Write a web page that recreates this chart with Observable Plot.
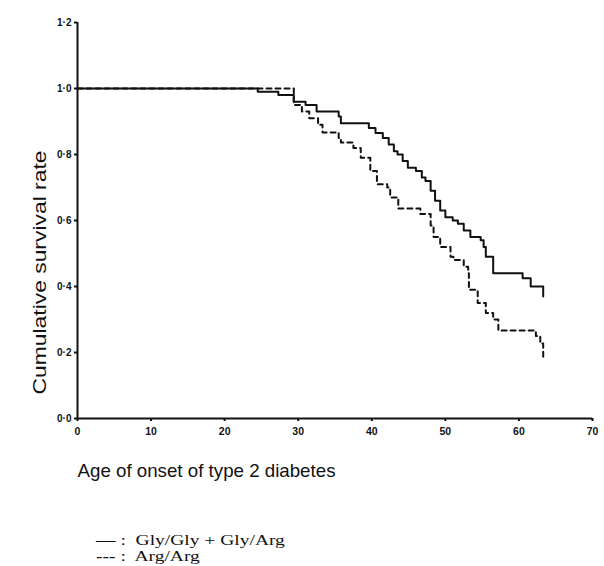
<!DOCTYPE html>
<html>
<head>
<meta charset="utf-8">
<script src="https://cdn.jsdelivr.net/npm/d3@7"></script>
<script src="https://cdn.jsdelivr.net/npm/@observablehq/plot@0.6"></script>
<style>
  body { margin: 0; background: #fff; overflow: hidden; }
  #legend { font-family: "Liberation Serif", "Times New Roman", serif; font-size: 15px; color: #111; padding-left: 96px; margin-top: 42px; line-height: 16px; }
  #legend div { display: block; transform: scaleX(1.3); transform-origin: left center; white-space: pre; }
</style>
</head>
<body>
<div id="chart"></div>
<div id="legend"></div>
<script>
// Series: Gly/Gly + Gly/Arg (solid)
const solidAges = [0, 24.5, 27.3, 29.4, 31.0, 32.5, 35.5, 35.8, 39.6, 40.5, 41.5, 42.3, 43.0, 43.5, 44.2, 44.9, 46.0, 46.8, 47.3, 48.0, 48.6, 49.3, 50.0, 51.0, 51.7, 52.5, 53.4, 54.8, 55.2, 55.5, 56.5, 60.5, 61.6, 63.3, 63.3];
const solidSurv = [1.0, 0.99, 0.98, 0.96, 0.95, 0.93, 0.915, 0.895, 0.88, 0.865, 0.85, 0.83, 0.81, 0.80, 0.78, 0.76, 0.75, 0.73, 0.72, 0.69, 0.66, 0.63, 0.61, 0.60, 0.59, 0.57, 0.55, 0.54, 0.52, 0.49, 0.44, 0.425, 0.40, 0.40, 0.37];
// Series: Arg/Arg (dashed)
const dashedAges = [0, 29.4, 30.5, 31.5, 32.7, 33.3, 35.5, 35.8, 37.5, 38.5, 39.8, 40.7, 42.1, 42.5, 43.6, 46.6, 48.0, 48.4, 49.3, 50.7, 51.1, 52.5, 53.1, 53.2, 54.4, 55.5, 56.5, 57.2, 62.3, 62.9, 63.3, 63.3];
const dashedSurv = [1.0, 0.95, 0.93, 0.91, 0.89, 0.867, 0.85, 0.836, 0.82, 0.79, 0.75, 0.71, 0.70, 0.67, 0.636, 0.62, 0.585, 0.55, 0.52, 0.49, 0.48, 0.46, 0.44, 0.39, 0.35, 0.32, 0.30, 0.267, 0.25, 0.227, 0.215, 0.18];

const xTicks = [0, 10, 20, 30, 40, 50, 60, 70];
const yTicks = [0, 0.2, 0.4, 0.6, 0.8, 1.0, 1.2];
const xLabel = "Age of onset of type 2 diabetes";
const yLabel = "Cumulative survival rate";
const legendSymbols = ["\u2014", "---"];
const legendNames = ["Gly/Gly + Gly/Arg", "Arg/Arg"];

const solid = solidAges.map((a, i) => ({age: a, surv: solidSurv[i]}));
const dashed = dashedAges.map((a, i) => ({age: a, surv: dashedSurv[i]}));

const fmt = d => d.toFixed(1).replace(".", "\u00B7");

const plot = Plot.plot({
  width: 604,
  height: 490,
  marginTop: 22,
  marginBottom: 72,
  marginLeft: 77,
  marginRight: 12,
  style: {fontFamily: "'Liberation Sans', Arial, sans-serif", fontSize: "10px", color: "#111", background: "#fff"},
  x: {domain: [0, 70]},
  y: {domain: [0, 1.2]},
  marks: [
    Plot.axisX({ticks: xTicks, tickSize: 3, tickPadding: 6, label: null, fontSize: 10.5, fontWeight: "bold", strokeWidth: 2}),
    Plot.axisY({ticks: yTicks, tickSize: 3, tickPadding: 3, label: null, tickFormat: fmt, fontSize: 10, fontWeight: "bold", strokeWidth: 2}),
    Plot.ruleX([0], {stroke: "#111", strokeWidth: 2}),
    Plot.ruleY([0], {stroke: "#111", strokeWidth: 2}),
    Plot.line(dashed, {x: "age", y: "surv", curve: "step-after", stroke: "#111", strokeWidth: 2, strokeDasharray: "5,4"}),
    Plot.line(solid, {x: "age", y: "surv", curve: "step-after", stroke: "#111", strokeWidth: 2}),
    Plot.text([xLabel], {frameAnchor: "bottom-left", text: d => d, dy: 58, textAnchor: "start", fontSize: 18.5, fill: "#111"}),
    Plot.text([yLabel], {frameAnchor: "left", text: d => d, dx: -38, dy: 52, rotate: -90, textAnchor: "middle", fontSize: 19, fill: "#111"})
  ]
});
document.getElementById("chart").appendChild(plot);
d3.select(plot).selectAll("text")
  .filter(function() { return this.textContent === yLabel; })
  .attr("textLength", 244).attr("lengthAdjust", "spacingAndGlyphs");
d3.select(plot).selectAll("text")
  .filter(function() { return this.textContent === xLabel; })
  .attr("textLength", 258).attr("lengthAdjust", "spacingAndGlyphs");
const leg = document.getElementById("legend");
legendNames.forEach((t, i) => {
  const d = document.createElement("div");
  const s = document.createElement("b");
  s.textContent = legendSymbols[i];
  d.appendChild(s);
  d.appendChild(document.createTextNode(" :  " + t));
  leg.appendChild(d);
});
</script>
</body>
</html>
